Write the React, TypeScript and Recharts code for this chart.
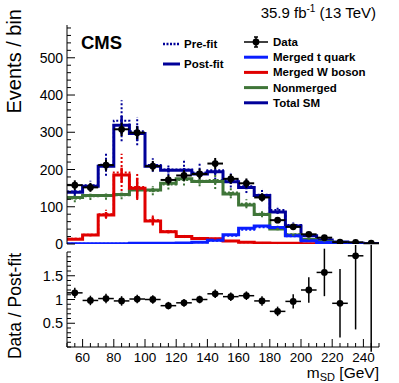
import React from 'react';
import { ComposedChart, Line, Scatter, ErrorBar, XAxis, YAxis } from 'recharts';

// m_SD binning (GeV)
const binEdges = [50, 60, 70, 80, 90, 100, 110, 120, 130, 140, 150, 160, 170, 180, 190, 200, 210, 220, 230, 240, 250];
const binCenters = [55, 65, 75, 85, 95, 105, 115, 125, 135, 145, 155, 165, 175, 185, 195, 205, 215, 225, 235, 245];

// observed data
const dataCounts = [158, 152, 212, 308, 299, 209, 172, 184, 188, 216, 175, 163, 125, 64, 46, 26, 17, 5, 4.5, 2];
const dataErr = [13, 12, 15, 18, 17, 14, 13, 14, 14, 15, 13, 13, 11, 8, 7, 5, 4, 2, 2, 1.5];

// post-fit templates
const totalPost = [139, 155, 209, 319, 297, 209, 198, 198, 188, 194, 167, 152, 130, 86, 48, 22, 11, 5.4, 2.3, 0.8];
const topPost = [1, 1, 1, 1, 2, 2, 2, 3, 5, 10, 25, 42, 48, 44, 22, 9, 4, 2, 1, 0.5];
const wPost = [13, 24, 78, 185, 150, 62, 33, 20, 15, 14, 8, 5, 3, 2, 2, 1, 1, 1, 0.5, 0.3];
const nmPost = [125, 130, 130, 133, 145, 145, 163, 175, 168, 168, 134, 105, 79, 40, 24, 12, 6, 2.4, 0.8, 0.3];

// pre-fit templates
const totalPre = [141, 158, 213, 331, 303, 212, 200, 200, 192, 198, 172, 155, 132, 91, 51, 24, 12, 5, 2, 1];
const topPre = [1, 1, 1, 1, 2, 2, 2, 3, 5, 9, 22, 38, 45, 42, 21, 9, 4, 2, 1, 0.5];
const wPre = [14, 25, 80, 192, 153, 64, 34, 21, 16, 14, 8, 5, 3, 2, 2, 1, 1, 1, 0.5, 0.3];
const nmPre = [122, 128, 129, 131, 146, 143, 160, 172, 170, 172, 138, 108, 81, 44, 26, 13, 6, 2, 1, 0.5];

// template uncertainties
const totalPostErr = [5, 5, 10, 25, 20, 8, 6, 6, 6, 6, 5, 5, 5, 4, 3, 2, 1, 1, 1, 1];
const totalPreErr = [12, 12, 30, 55, 38, 18, 16, 25, 25, 25, 20, 18, 14, 10, 7, 4, 2, 1, 1, 1];
const wPostErr = [2, 3, 8, 20, 28, 10, 4, 3, 2, 2, 1, 1, 1, 0, 0, 0, 0, 0, 0, 0];
const wPreErr = [3, 4, 12, 50, 35, 14, 5, 4, 3, 2, 2, 1, 1, 1, 0, 0, 0, 0, 0, 0];
const nmPostErr = [5, 5, 5, 5, 6, 6, 6, 6, 6, 6, 5, 5, 4, 3, 2, 1, 1, 1, 0, 0];
const nmPreErr = [10, 10, 10, 11, 12, 12, 14, 15, 15, 24, 15, 12, 9, 6, 4, 2, 1, 1, 0, 0];

// data / post-fit
const ratio = [1.14, 0.98, 1.02, 0.97, 1.01, 1.0, 0.87, 0.93, 1.0, 1.12, 1.06, 1.08, 0.97, 0.75, 0.96, 1.2, 1.57, 0.92, 1.92, 2.5];
const ratioErrLow = [0.11, 0.1, 0.1, 0.1, 0.09, 0.09, 0.08, 0.08, 0.08, 0.09, 0.09, 0.09, 0.1, 0.1, 0.15, 0.27, 0.5, 0.72, 1.55, 2.6];
const ratioErrHigh = [0.11, 0.1, 0.1, 0.1, 0.09, 0.09, 0.08, 0.08, 0.08, 0.09, 0.09, 0.09, 0.1, 0.1, 0.15, 0.27, 0.5, 0.72, 1.55, 2.0];

// axis labels
const topYLabels = [0, 100, 200, 300, 400, 500];
const ratioYLabels = [0.5, 1, 1.5];
const xLabels = [60, 80, 100, 120, 140, 160, 180, 200, 220, 240];

const FONT = '"Liberation Sans", Arial, Helvetica, sans-serif';
const COL = {
  total: '#000099',
  top: '#0a1eff',
  w: '#e00000',
  nm: '#3f7538',
  data: '#000000',
};

const Y_MAX = 588;

const stepData = (vals: number[]) => [
  ...vals.map((v, i) => ({ x: binEdges[i], y: v })),
  { x: binEdges[binEdges.length - 1], y: vals[vals.length - 1] },
];
const barData = (vals: number[], errs: number[]) =>
  binCenters.map((x, i) => ({ x, y: vals[i], e: errs[i] }));

const dataPoints = binCenters.map((x, i) => ({ x, y: dataCounts[i], e: dataErr[i], ex: 5 }));
const ratioPoints = binCenters.map((x, i) => ({
  x,
  y: ratio[i],
  e: [ratioErrLow[i], ratioErrHigh[i]],
  ex: 5,
}));

// minor tick positions (axis config only)
const topYTicks = Array.from({ length: 30 }, (_, i) => i * 20);
const ratioYTicks = Array.from({ length: 21 }, (_, i) => Math.round(i * 10) / 100);
const xTicks = Array.from({ length: 41 }, (_, i) => 50 + i * 5);

const isIn = (arr: number[], v: number) => arr.some((a) => Math.abs(a - v) < 1e-6);

type Side = 'left' | 'right' | 'top' | 'bottom';

function makeTick(side: Side, majors: number[], labels: number[] | null, majorLen: number, minorLen: number, fontSize: number) {
  return (props: any) => {
    const { x, y, payload } = props;
    const v = payload.value;
    const len = isIn(majors, v) ? majorLen : minorLen;
    let line = null;
    if (side === 'left') line = <line x1={x} x2={x + len} y1={y} y2={y} />;
    if (side === 'right') line = <line x1={x} x2={x - len} y1={y} y2={y} />;
    if (side === 'top') line = <line x1={x} x2={x} y1={y} y2={y + len} />;
    if (side === 'bottom') line = <line x1={x} x2={x} y1={y} y2={y - len} />;
    const showLabel = labels && isIn(labels, v);
    return (
      <g stroke="#000" strokeWidth={1}>
        {line}
        {showLabel && side === 'left' && (
          <text x={x - 4} y={y} textAnchor="end" dominantBaseline="central" fill="#000" stroke="none"
            fontFamily={FONT} fontSize={fontSize}>
            {String(v)}
          </text>
        )}
        {showLabel && side === 'bottom' && (
          <text x={x} y={y + 10} textAnchor="middle" dominantBaseline="central" fill="#000" stroke="none"
            fontFamily={FONT} fontSize={fontSize}>
            {String(v)}
          </text>
        )}
      </g>
    );
  };
}

const NoShape = () => <g />;
const DataDot = (p: any) => <circle cx={p.cx} cy={p.cy} r={3.4} fill="#000" />;

const axisStroke = { stroke: '#000', strokeWidth: 1 };

function TopPanel() {
  const main = { xAxisId: 'b', yAxisId: 'l', isAnimationActive: false } as const;
  const stepLine = (vals: number[], color: string, pre: boolean, key: string) => (
    <Line key={key} {...main} data={stepData(vals)} dataKey="y" type="stepAfter" stroke={color}
      strokeWidth={pre ? 2 : 3} strokeDasharray={pre ? '2 2' : undefined} dot={false} activeDot={false} />
  );
  const errBars = (vals: number[], errs: number[], color: string, pre: boolean, key: string) => (
    <Scatter key={key} {...main} data={barData(vals, errs)} dataKey="y" shape={NoShape}>
      <ErrorBar dataKey="e" direction="y" width={0} stroke={color} strokeWidth={pre ? 2 : 2.5}
        strokeDasharray={pre ? '2 2' : undefined} />
    </Scatter>
  );
  return (
    <ComposedChart width={399} height={258} margin={{ top: 25, right: 20, bottom: 14, left: 0 }}>
      <XAxis xAxisId="b" type="number" dataKey="x" domain={[50, 250]} allowDataOverflow ticks={xTicks} interval={0}
        height={0} tickSize={0} tickMargin={0} axisLine={axisStroke}
        tick={makeTick('bottom', xLabels, null, 8, 4, 14)} />
      <XAxis xAxisId="t" orientation="top" type="number" dataKey="x" domain={[50, 250]} allowDataOverflow ticks={xTicks}
        interval={0} height={0} tickSize={0} tickMargin={0} axisLine={axisStroke}
        tick={makeTick('top', xLabels, null, 8, 4, 14)} />
      <YAxis yAxisId="l" type="number" domain={[0, Y_MAX]} allowDataOverflow ticks={topYTicks} interval={0}
        width={67} tickSize={0} tickMargin={0} axisLine={axisStroke}
        tick={makeTick('left', topYLabels, topYLabels, 8, 4, 14)} />
      <YAxis yAxisId="r" orientation="right" type="number" domain={[0, Y_MAX]} allowDataOverflow ticks={topYTicks}
        interval={0} width={0} tickSize={0} tickMargin={0} axisLine={axisStroke}
        tick={makeTick('right', topYLabels, null, 8, 4, 14)} />

      {stepLine(totalPre, COL.total, true, 'totpre')}
      {stepLine(nmPre, COL.nm, true, 'nmpre')}
      {stepLine(wPre, COL.w, true, 'wpre')}
      {stepLine(topPre, COL.top, true, 'toppre')}
      {errBars(totalPre, totalPreErr, COL.total, true, 'totpreE')}
      {errBars(nmPre, nmPreErr, COL.nm, true, 'nmpreE')}
      {errBars(wPre, wPreErr, COL.w, true, 'wpreE')}

      {stepLine(totalPost, COL.total, false, 'totpost')}
      {stepLine(nmPost, COL.nm, false, 'nmpost')}
      {stepLine(wPost, COL.w, false, 'wpost')}
      {stepLine(topPost, COL.top, false, 'toppost')}
      {errBars(totalPost, totalPostErr, COL.total, false, 'totpostE')}
      {errBars(nmPost, nmPostErr, COL.nm, false, 'nmpostE')}
      {errBars(wPost, wPostErr, COL.w, false, 'wpostE')}

      <Scatter {...main} data={dataPoints} dataKey="y" shape={DataDot}>
        <ErrorBar dataKey="e" direction="y" width={0} stroke="#000" strokeWidth={2} />
        <ErrorBar dataKey="ex" direction="x" width={0} stroke="#000" strokeWidth={2} />
      </Scatter>
    </ComposedChart>
  );
}

const RatioDot = (p: any) => (p.payload.y > 2 ? <g /> : <circle cx={p.cx} cy={p.cy} r={3.4} fill="#000" />);

function RatioPanel() {
  const main = { xAxisId: 'b', yAxisId: 'l', isAnimationActive: false } as const;
  return (
    <ComposedChart width={399} height={138} margin={{ top: 7, right: 20, bottom: 0, left: 0 }}>
      <XAxis xAxisId="b" type="number" dataKey="x" domain={[50, 250]} allowDataOverflow ticks={xTicks} interval={0}
        height={36} tickSize={0} tickMargin={0} axisLine={axisStroke}
        tick={makeTick('bottom', xLabels, xLabels, 8, 4, 13.5)} />
      <XAxis xAxisId="t" orientation="top" type="number" dataKey="x" domain={[50, 250]} allowDataOverflow ticks={xTicks}
        interval={0} height={0} tickSize={0} tickMargin={0} axisLine={axisStroke}
        tick={makeTick('top', xLabels, null, 8, 4, 14)} />
      <YAxis yAxisId="l" type="number" domain={[0, 2]} allowDataOverflow ticks={ratioYTicks} interval={0}
        width={67} tickSize={0} tickMargin={0} axisLine={axisStroke}
        tick={makeTick('left', ratioYLabels, ratioYLabels, 8, 4, 14.5)} />
      <YAxis yAxisId="r" orientation="right" type="number" domain={[0, 2]} allowDataOverflow ticks={ratioYTicks}
        interval={0} width={0} tickSize={0} tickMargin={0} axisLine={axisStroke}
        tick={makeTick('right', ratioYLabels, null, 8, 4, 14)} />
      <Scatter {...main} data={ratioPoints} dataKey="y" shape={RatioDot}>
        <ErrorBar dataKey="e" direction="y" width={0} stroke="#000" strokeWidth={1.5} />
        <ErrorBar dataKey="ex" direction="x" width={0} stroke="#000" strokeWidth={1.5} />
      </Scatter>
    </ComposedChart>
  );
}

const legendRows = [
  { label: 'Data', color: COL.data, kind: 'data' },
  { label: 'Merged t quark', color: COL.top, kind: 'line' },
  { label: 'Merged W boson', color: COL.w, kind: 'line' },
  { label: 'Nonmerged', color: COL.nm, kind: 'line' },
  { label: 'Total SM', color: COL.total, kind: 'line' },
];

function Overlay() {
  return (
    <svg width={399} height={383} style={{ position: 'absolute', left: 0, top: 0, pointerEvents: 'none' }}
      fontFamily={FONT}>
      <text x={376} y={18} textAnchor="end" fontSize={15} fill="#000">
        35.9 fb<tspan dy={-6} fontSize={10}>-1</tspan><tspan dy={6}> (13 TeV)</tspan>
      </text>
      <text x={81} y={49} fontSize={18.5} fontWeight="bold" fill="#000">CMS</text>

      <text transform="translate(21,9) rotate(-90)" textAnchor="end" fontSize={20} fill="#000">Events / bin</text>
      <text transform="translate(21,253) rotate(-90)" textAnchor="end" fontSize={17.5} fill="#000">Data / Post-fit</text>
      <text x={379} y={378} textAnchor="end" fontSize={15.5} fill="#000">
        m<tspan dy={2.5} fontSize={11}>SD</tspan><tspan dy={-2.5}> [GeV]</tspan>
      </text>

      <line x1={163} x2={180} y1={44} y2={44} stroke={COL.total} strokeWidth={2.5} strokeDasharray="2 1.5" />
      <text x={184} y={44} dominantBaseline="central" fontSize={11.5} fontWeight="bold">Pre-fit</text>
      <line x1={163} x2={180} y1={64} y2={64} stroke={COL.total} strokeWidth={3} />
      <text x={184} y={64} dominantBaseline="central" fontSize={11.5} fontWeight="bold">Post-fit</text>

      {legendRows.map((r, i) => {
        const y = 42 + i * 15.2;
        return (
          <g key={r.label}>
            {r.kind === 'data' ? (
              <g stroke="#000" strokeWidth={1.5}>
                <line x1={244} x2={268} y1={y} y2={y} />
                <line x1={256} x2={256} y1={y - 5} y2={y + 5} />
                <line x1={254} x2={258} y1={y - 5} y2={y - 5} />
                <line x1={254} x2={258} y1={y + 5} y2={y + 5} />
                <circle cx={256} cy={y} r={3.4} fill="#000" stroke="none" />
              </g>
            ) : (
              <line x1={244} x2={268} y1={y} y2={y} stroke={r.color} strokeWidth={3} />
            )}
            <text x={273} y={y} dominantBaseline="central" fontSize={11.5} fontWeight="bold">{r.label}</text>
          </g>
        );
      })}
    </svg>
  );
}

export default function App() {
  return (
    <div style={{ position: 'absolute', left: 0, top: 0, width: 399, height: 383, background: '#fff' }}>
      <div style={{ position: 'absolute', left: 0, top: 0 }}>
        <TopPanel />
      </div>
      <div style={{ position: 'absolute', left: 0, top: 245 }}>
        <RatioPanel />
      </div>
      <Overlay />
    </div>
  );
}
